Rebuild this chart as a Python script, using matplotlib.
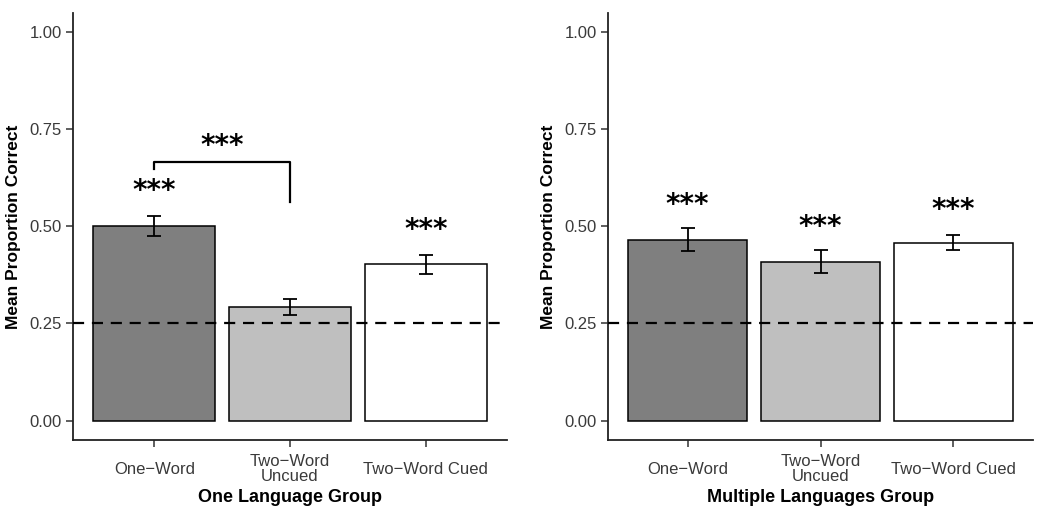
import matplotlib.pyplot as plt
import numpy as np

import matplotlib
matplotlib.rcParams['font.family'] = ['Liberation Sans', 'DejaVu Sans']

conditions = ['One\u2212Word', 'Two\u2212Word\nUncued', 'Two\u2212Word Cued']
fills = ['#7f7f7f', '#bfbfbf', '#ffffff']

# One Language Group
one_means = [0.500, 0.293, 0.402]
one_err = [0.026, 0.021, 0.024]
one_stars = [0.590, None, 0.490]

# Multiple Languages Group
multi_means = [0.466, 0.409, 0.458]
multi_err = [0.030, 0.029, 0.019]
multi_stars = [0.555, 0.498, 0.543]

chance = 0.25

fig = plt.figure(figsize=(10.5, 5.32), dpi=100)
ax1 = fig.add_axes([0.0695, 0.173, 0.4135, 0.803])
ax2 = fig.add_axes([0.579, 0.173, 0.405, 0.803])


def stars_text(ax, x, y):
    ax.text(x, y, '***', ha='center', va='center', fontsize=20,
            family='DejaVu Sans', fontweight='bold', zorder=5)


def draw_panel(ax, means, errs, stars, xlabel):
    x = np.arange(1, len(means) + 1)
    ax.bar(x, means, 0.9, color=fills, edgecolor='black', linewidth=1.1, zorder=2)
    ax.errorbar(x, means, yerr=errs, fmt='none', ecolor='black',
                elinewidth=1.3, capsize=4.8, capthick=1.3, zorder=3)
    ax.axhline(chance, color='black', ls=(0, (5, 3.5)), linewidth=1.6, zorder=4)
    for xi, s in zip(x, stars):
        if s is not None:
            stars_text(ax, xi, s)
    ax.set_xlim(0.4, 3.6)
    ax.set_ylim(-0.05, 1.05)
    ax.set_yticks([0, 0.25, 0.5, 0.75, 1.0])
    ax.set_yticklabels(['0.00', '0.25', '0.50', '0.75', '1.00'])
    ax.set_xticks(x)
    ax.set_xticklabels(conditions, linespacing=0.95)
    for lab in ax.get_xticklabels():
        lab.set_va('center')
    ax.tick_params(axis='x', length=5, width=1.1, pad=16, labelsize=12,
                   labelcolor='#3a3a3a', color='#333333')
    ax.tick_params(axis='y', length=5, width=1.1, pad=3, labelsize=12,
                   labelcolor='#3a3a3a', color='#333333')
    ax.spines['top'].set_visible(False)
    ax.spines['right'].set_visible(False)
    ax.spines['left'].set_linewidth(1.3)
    ax.spines['bottom'].set_linewidth(1.3)
    ax.spines['left'].set_color('#222222')
    ax.spines['bottom'].set_color('#222222')
    ax.set_ylabel('Mean Proportion Correct', fontsize=12.5, fontweight='bold', labelpad=6)
    ax.set_xlabel(xlabel, fontsize=13, fontweight='bold', labelpad=4)


draw_panel(ax1, one_means, one_err, one_stars, 'One Language Group')
draw_panel(ax2, multi_means, multi_err, multi_stars, 'Multiple Languages Group')

# bracket between One-Word and Two-Word Uncued
ax1.plot([1, 1, 2, 2], [0.649, 0.666, 0.666, 0.562], color='black', linewidth=1.6,
         zorder=5)
stars_text(ax1, 1.5, 0.707)

plt.savefig('out.png', dpi=100)
